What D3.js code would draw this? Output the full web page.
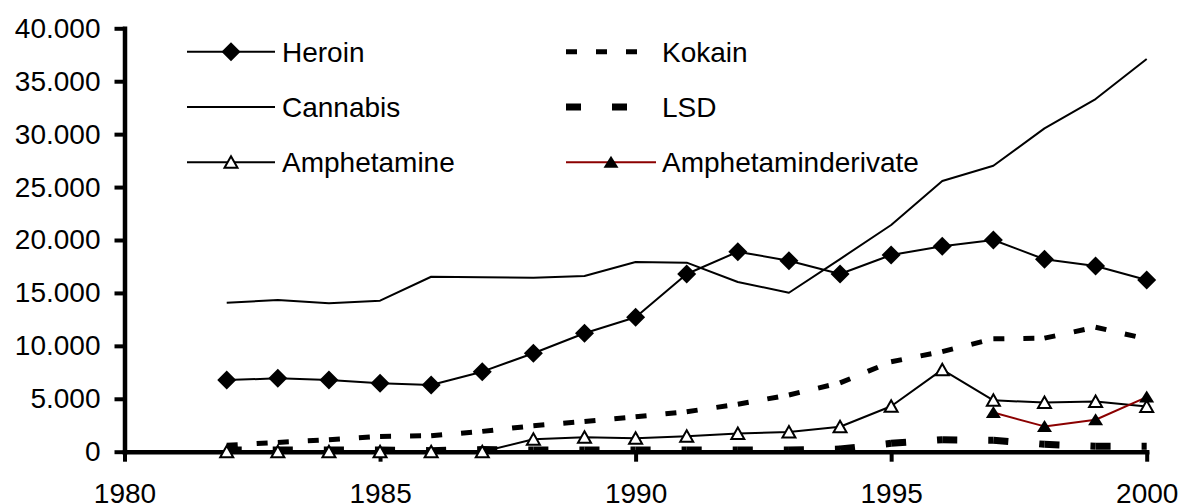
<!DOCTYPE html>
<html>
<head>
<meta charset="utf-8">
<script src="https://cdn.jsdelivr.net/npm/d3@7"></script>
<style>
  body { margin: 0; background: #fff; }
  svg { display: block; font-family: Arial, "Liberation Sans", sans-serif; }
</style>
</head>
<body>
<div id="chart-area"></div>
<script>
// Data
const years = [1982, 1983, 1984, 1985, 1986, 1987, 1988, 1989, 1990, 1991,
  1992, 1993, 1994, 1995, 1996, 1997, 1998, 1999, 2000];
const heroin = [6770, 6930, 6770, 6460, 6300, 7560, 9300, 11190, 12700, 16790,
  18890, 18040, 16790, 18580, 19400, 20000, 18180, 17540, 16220];
const kokain = [600, 880, 1130, 1440, 1510, 1920, 2450, 2860, 3300, 3780,
  4480, 5360, 6500, 8500, 9460, 10660, 10730, 11760, 10650];
const cannabis = [14080, 14330, 14020, 14270, 16530, 16480, 16440, 16600, 17920, 17860,
  16030, 15020, 18200, 21420, 25570, 27020, 30550, 33320, 37100];
const lsd = [150, 150, 150, 150, 100, 200, 150, 150, 150, 150,
  150, 150, 250, 790, 1130, 1080, 700, 510, 510];
const amphetamine = [0, 0, 0, 0, 0, 0, 1170, 1360, 1260, 1450,
  1720, 1860, 2360, 4290, 7750, 4850, 4650, 4750, 4270];
const derivYears = [1997, 1998, 1999, 2000];
const amphDerivate = [3700, 2390, 3020, 5160];

const xTicks = [1980, 1985, 1990, 1995, 2000];
const yTicks = [0, 5000, 10000, 15000, 20000, 25000, 30000, 35000, 40000];

// Series table built from the arrays above (legend order)
const series = [
  { name: "Heroin", x: years, y: heroin, color: "#000", width: 2, dash: null, marker: "diamond" },
  { name: "Kokain", x: years, y: kokain, color: "#000", width: 5, dash: "11,19", marker: null },
  { name: "Cannabis", x: years, y: cannabis, color: "#000", width: 2, dash: null, marker: null },
  { name: "LSD", x: years, y: lsd, color: "#000", width: 7, dash: "15,31", marker: null },
  { name: "Amphetamine", x: years, y: amphetamine, color: "#000", width: 2, dash: null, marker: "open" },
  { name: "Amphetaminderivate", x: derivYears, y: amphDerivate, color: "#8b0000", width: 2, dash: null, marker: "filled" }
];

const W = 1182, H = 504;
const x = d3.scaleLinear().domain([1980, 2000]).range([124.5, 1146.7]);
const y = d3.scaleLinear().domain([0, 40000]).range([451.7, 28.3]);

const de = d3.formatLocale({ decimal: ",", thousands: ".", grouping: [3], currency: ["", "€"] });
const fmt = de.format(",");

const svg = d3.select("#chart-area")
  .append("svg")
    .attr("width", W)
    .attr("height", H);

// Axes
const yAxis = d3.axisLeft(y)
  .tickValues(yTicks)
  .tickFormat(fmt)
  .tickSize(10)
  .tickSizeOuter(0)
  .tickPadding(14);

const xAxis = d3.axisBottom(x)
  .tickValues(xTicks)
  .tickFormat(d3.format("d"))
  .tickSize(10)
  .tickSizeOuter(0)
  .tickPadding(21);

const gx = svg.append("g")
  .attr("transform", "translate(0," + y(0) + ")")
  .call(xAxis);

const gy = svg.append("g")
  .attr("transform", "translate(" + x(1980) + ",0)")
  .call(yAxis);

[gx, gy].forEach(g => {
  g.select(".domain").attr("stroke", "#000").attr("stroke-width", 4.5).attr("stroke-linecap", "square");
  g.selectAll(".tick line").attr("stroke", "#000").attr("stroke-width", 4);
  g.selectAll(".tick text")
    .attr("fill", "#000")
    .style("font-size", "28px")
    .style("font-family", "Arial, 'Liberation Sans', sans-serif");
});

// Markers
const markerPath = {
  diamond: "M0,-9.5L9.5,0L0,9.5L-9.5,0Z",
  open: "M0,-6L6.5,5.5L-6.5,5.5Z",
  filled: "M0,-6.5L7.5,5.5L-7.5,5.5Z"
};
function drawMarker(g, kind, cx, cy, color) {
  if (!kind) return;
  const p = g.append("path")
    .attr("d", markerPath[kind])
    .attr("transform", "translate(" + cx + "," + cy + ")");
  if (kind === "open") {
    p.attr("fill", "#fff").attr("stroke", "#000").attr("stroke-width", 2);
  } else {
    p.attr("fill", "#000");
  }
}

const line = d3.line();

// Series lines (dash pattern restarts at each data point, as in Excel)
series.forEach(s => {
  const pts = s.x.map((yr, i) => [x(yr), y(s.y[i])]);
  const g = svg.append("g").attr("class", "series");
  if (s.dash) {
    for (let i = 0; i < pts.length - 1; i++) {
      g.append("path")
        .attr("d", line([pts[i], pts[i + 1]]))
        .attr("fill", "none")
        .attr("stroke", s.color)
        .attr("stroke-width", s.width)
        .attr("stroke-dasharray", s.dash);
    }
  } else {
    g.append("path")
      .attr("d", line(pts))
      .attr("fill", "none")
      .attr("stroke", s.color)
      .attr("stroke-width", s.width)
      .attr("stroke-linejoin", "round");
  }
  pts.forEach(p => drawMarker(g, s.marker, p[0], p[1], s.color));
});

// Legend: two columns, three rows
const legendRows = [51.7, 107, 162.3];
const legendCols = [
  { x1: 187, x2: 275, tx: 282 },
  { x1: 566, x2: 656, tx: 662 }
];
const legend = svg.append("g").attr("class", "legend");
series.forEach((s, i) => {
  const col = legendCols[i % 2];
  const ry = legendRows[Math.floor(i / 2)];
  legend.append("line")
    .attr("x1", col.x1).attr("x2", col.x2)
    .attr("y1", ry).attr("y2", ry)
    .attr("stroke", s.color)
    .attr("stroke-width", s.width)
    .attr("stroke-dasharray", s.dash);
  drawMarker(legend, s.marker, (col.x1 + col.x2) / 2, ry, s.color);
  legend.append("text")
    .attr("x", col.tx)
    .attr("y", ry)
    .attr("dy", "0.35em")
    .style("font-size", "28px")
    .attr("fill", "#000")
    .text(s.name);
});
</script>
</body>
</html>
